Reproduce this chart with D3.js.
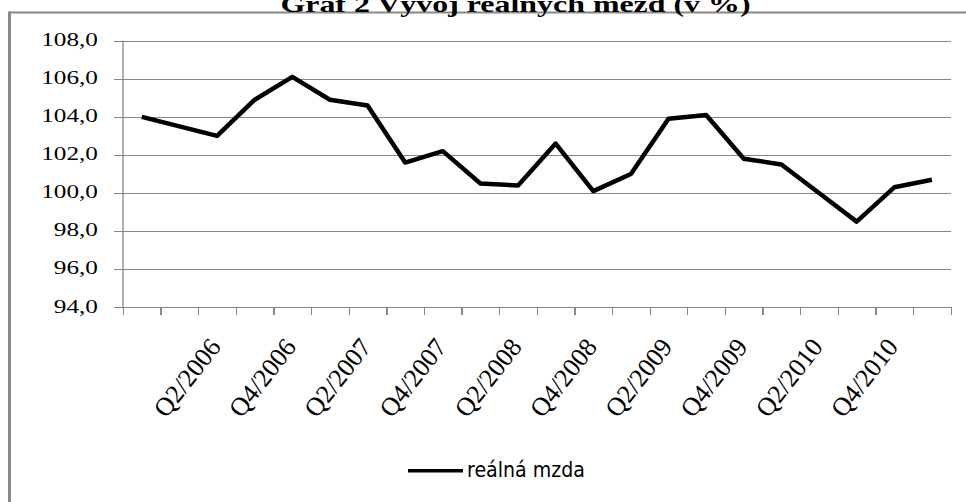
<!DOCTYPE html>
<html lang="cs">
<head>
<meta charset="utf-8">
<title>Graf 2 Vývoj reálných mezd (v %)</title>
<script src="https://cdn.jsdelivr.net/npm/d3@7/dist/d3.min.js"></script>
<style>
  body { margin: 0; background: #fff; }
  .axis path { display: none; }
  .grid line { stroke: #868686; stroke-width: 1.3; shape-rendering: crispEdges; }
  .xaxis line { stroke: #868686; stroke-width: 1.3; shape-rendering: crispEdges; }
</style>
</head>
<body>
<script>
// values (index = category slot on the x axis)
var realWage = [104.0, 103.5, 103.0, 104.9, 106.1, 104.9, 104.6, 101.6, 102.2, 100.5, 100.4,
                102.6, 100.1, 101.0, 103.9, 104.1, 101.8, 101.5, 100.0, 98.5, 100.3, 100.7];
// category labels as printed (every other slot labelled)
var catLabels = ["", "", "Q2/2006", "", "Q4/2006", "", "Q2/2007", "", "Q4/2007", "", "Q2/2008",
                 "", "Q4/2008", "", "Q2/2009", "", "Q4/2009", "", "Q2/2010", "", "Q4/2010", ""];
var yTicks = [94, 96, 98, 100, 102, 104, 106, 108];
var seriesName = "reálná mzda";
var title = "Graf 2 Vývoj reálných mezd (v %)";

var W = 966, H = 502;
var plotL = 123, plotR = 950.7, plotT = 40.7, plotB = 307.3;
var sx = 1.33; // the serif text in the source is drawn wide

var svg = d3.select("body").append("svg").attr("width", W).attr("height", H);

// chart frame (only top and left edges fall inside the picture)
svg.append("line").attr("x1", 9).attr("x2", W).attr("y1", 12.5).attr("y2", 12.5)
   .attr("stroke", "#888").attr("stroke-width", 2);
svg.append("line").attr("x1", 9.5).attr("x2", 9.5).attr("y1", 11.5).attr("y2", H)
   .attr("stroke", "#888").attr("stroke-width", 3);

svg.append("text")
   .attr("transform", "translate(515.5,11.5) scale(" + sx + ",1)")
   .attr("text-anchor", "middle")
   .attr("font-family", "'Liberation Serif', 'Times New Roman', serif")
   .attr("font-weight", "bold")
   .attr("font-size", 24)
   .text(title);

var x = d3.scaleBand().domain(d3.range(realWage.length)).range([plotL, plotR]);
var xEdge = d3.scaleLinear().domain([0, realWage.length]).range([plotL, plotR]);
var y = d3.scaleLinear().domain([94, 108]).range([plotB, plotT]);

// horizontal gridlines + y labels
var gy = svg.append("g").attr("class", "axis grid")
   .attr("transform", "translate(" + plotL + ",0)")
   .call(d3.axisLeft(y).tickValues(yTicks).tickSizeInner(-(plotR - plotL)).tickSizeOuter(0)
         .tickFormat(function(d) { return d3.format(".1f")(d).replace(".", ","); }));
gy.selectAll(".tick line").attr("x1", -9);
gy.selectAll(".tick text")
   .attr("x", 0).attr("dy", 0)
   .attr("transform", "translate(-25,4.7) scale(" + sx + ",1)")
   .attr("text-anchor", "end")
   .attr("fill", "#000")
   .attr("font-family", "'Liberation Serif', 'Times New Roman', serif")
   .attr("font-size", 19);

// vertical axis line
svg.append("line").attr("x1", plotL).attr("x2", plotL).attr("y1", y(108)).attr("y2", y(94))
   .attr("stroke", "#868686").attr("stroke-width", 1.3);

// x axis ticks on category boundaries
svg.append("g").attr("class", "axis xaxis")
   .attr("transform", "translate(0," + y(94) + ")")
   .call(d3.axisBottom(xEdge).tickValues(d3.range(realWage.length + 1)).tickSize(8).tickFormat(""));

// rotated category labels
svg.append("g").selectAll("text")
   .data(catLabels)
   .enter().append("text")
   .attr("transform", function(d, i) {
     return "translate(" + (x(i) + x.bandwidth() / 2 + 5) + "," + (y(94) + 40) + ") rotate(-52)";
   })
   .attr("text-anchor", "end")
   .attr("font-family", "'Liberation Serif', 'Times New Roman', serif")
   .attr("font-size", 26)
   .text(function(d) { return d; });

// the series line
var line = d3.line()
   .x(function(d, i) { return x(i) + x.bandwidth() / 2; })
   .y(function(d) { return y(d); });
svg.append("path").datum(realWage)
   .attr("d", line)
   .attr("fill", "none")
   .attr("stroke", "#000")
   .attr("stroke-width", 4.5)
   .attr("stroke-linejoin", "round");

// legend
svg.append("line").attr("x1", 408).attr("x2", 463).attr("y1", 470.7).attr("y2", 470.7)
   .attr("stroke", "#000").attr("stroke-width", 3.5);
svg.append("text")
   .attr("transform", "translate(467,476.7) scale(1,1.15)")
   .attr("font-family", "'DejaVu Sans', Tahoma, sans-serif")
   .attr("font-size", 19)
   .text(seriesName);
</script>
</body>
</html>
